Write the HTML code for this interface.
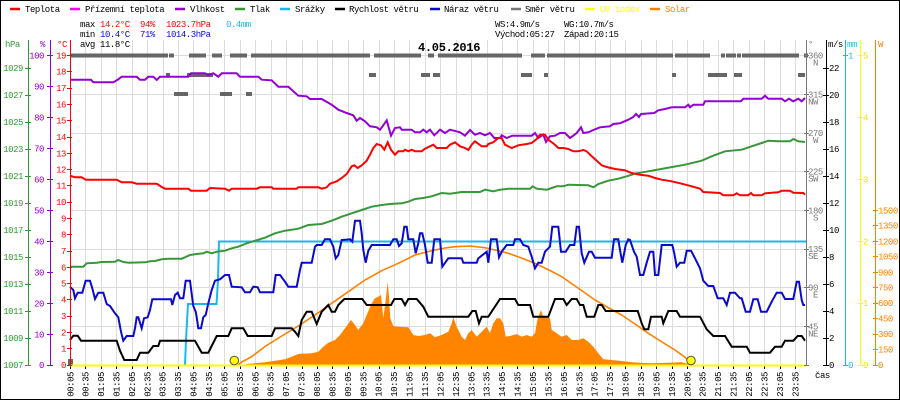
<!DOCTYPE html>
<html><head><meta charset="utf-8"><style>
html,body{margin:0;padding:0;background:#fff;}
svg{display:block;}
text{font-family:"Liberation Mono","DejaVu Sans Mono",monospace;font-size:9px;letter-spacing:-0.45px;}
</style></head><body>
<svg width="900" height="400" viewBox="0 0 900 400" xmlns="http://www.w3.org/2000/svg">
<rect x="0" y="0" width="900" height="400" fill="#fff"/>
<rect x="0.5" y="0.5" width="899" height="399" fill="none" stroke="#000" stroke-width="1"/>

<!-- grid -->
<g stroke="#dcdcdc" stroke-width="1" shape-rendering="crispEdges" fill="none">
<path d="M85.5 40V365M101.5 40V365M116.5 40V365M132.5 40V365M147.5 40V365M163.5 40V365M178.5 40V365M193.5 40V365M209.5 40V365M224.5 40V365M240.5 40V365M255.5 40V365M271.5 40V365M286.5 40V365M302.5 40V365M317.5 40V365M332.5 40V365M348.5 40V365M363.5 40V365M379.5 40V365M394.5 40V365M409.5 40V365M425.5 40V365M440.5 40V365M456.5 40V365M471.5 40V365M487.5 40V365M502.5 40V365M517.5 40V365M533.5 40V365M548.5 40V365M564.5 40V365M579.5 40V365M595.5 40V365M610.5 40V365M625.5 40V365M641.5 40V365M656.5 40V365M672.5 40V365M687.5 40V365M703.5 40V365M718.5 40V365M733.5 40V365M749.5 40V365M764.5 40V365M780.5 40V365M795.5 40V365"/>
<path d="M70 55.5H806M70 94.5H806M70 133.5H806M70 171.5H806M70 210.5H806M70 249.5H806M70 287.5H806M70 326.5H806"/>
</g>

<!-- wind direction bars -->
<g fill="#666" shape-rendering="crispEdges">
<rect x="70" y="53.5" width="98" height="4"/><rect x="169" y="53.5" width="5" height="4"/><rect x="189" y="53.5" width="17" height="4"/><rect x="212" y="53.5" width="10" height="4"/><rect x="230" y="53.5" width="17" height="4"/><rect x="251" y="53.5" width="119" height="4"/><rect x="374" y="53.5" width="47" height="4"/><rect x="428" y="53.5" width="6" height="4"/><rect x="438" y="53.5" width="84" height="4"/><rect x="531" y="53.5" width="14" height="4"/><rect x="547" y="53.5" width="126" height="4"/><rect x="675" y="53.5" width="35" height="4"/><rect x="721" y="53.5" width="4" height="4"/><rect x="726" y="53.5" width="10" height="4"/><rect x="737" y="53.5" width="4" height="4"/><rect x="742" y="53.5" width="57" height="4"/><rect x="804" y="53.5" width="4" height="4"/>
<rect x="166" y="73" width="4" height="4"/><rect x="187" y="73" width="26" height="4"/><rect x="369" y="73" width="7" height="4"/><rect x="421" y="73" width="9" height="4"/><rect x="433" y="73" width="7" height="4"/><rect x="521" y="73" width="11" height="4"/><rect x="544" y="73" width="4" height="4"/><rect x="672" y="73" width="4" height="4"/><rect x="708" y="73" width="19" height="4"/><rect x="734" y="73" width="8" height="4"/><rect x="798" y="73" width="7" height="4"/>
<rect x="174" y="92" width="14" height="4"/><rect x="220" y="92" width="12" height="4"/><rect x="246" y="92" width="6" height="4"/>
<rect x="68" y="359" width="5" height="6"/>
</g>

<!-- solar measured fill -->
<polygon fill="#ff8400" points="244,365 246.7,364 265,362.3 275,360.7 285,359.3 291.7,356.7 298.3,354 311.7,353.3 318.3,351.7 323.3,346.7 328.3,342.7 335,340 340,335 345,328.3 351,320 355,325 358.3,330 363.3,323.3 366.7,315 371.7,303.3 375,298.3 378.3,296.7 381,295 383.3,318.3 385.7,300 387.7,281.7 389,296.7 390.3,318.3 393.3,326 398.3,326.7 408.3,327.3 413.3,335 418.3,336 425,335 430,333.3 435,337.3 441.7,335 448.3,331.7 451.7,323.3 453.3,317.3 456.7,326.7 461.7,336.7 465,340 468.3,333.3 471.7,330 476.7,336.7 481.7,331.7 486.7,326.7 490,333.3 493.3,323.3 496.7,318.3 500,318.3 503.3,323.3 505.7,336.7 510,336 516.7,334 521.7,336.7 526.7,335 531.7,336.7 535,333.3 537.7,318.3 541,310 543.3,317.3 546.7,316.7 550,318.3 551.7,330 556.7,333.3 561.7,336.7 566.7,335 571.7,340 578.3,340 583.3,338.3 588.3,341.7 593.3,346.7 598.3,353.3 603.3,359.3 611.7,360 621.7,361 631.7,362.3 651.7,363.3 668.3,362.7 681.7,362.3 688.3,364 689,365"/>

<!-- solar theoretical line -->
<polyline fill="none" stroke="#ff8000" stroke-width="1.6" points="238,365 241.7,362 251.7,356.7 265,346.5 281.7,336 298.3,326 315,315 331.7,303.3 348.3,291.7 365,280 381.7,270.7 398.3,263.3 415,255 431.7,250.7 445,248 455,246.7 470,246 485,247.7 495,250 508.3,253.3 520,257.5 535,263.3 548,269.5 561.7,276.7 578,288 595,300 608,307.5 621.7,315 635,324 648.3,333.3 662,342 675,350 684,356.5 691.7,363.3"/>

<!-- rain -->
<polyline fill="none" stroke="#1ab8ec" stroke-width="2" points="185,365 186,340 188,304 216.5,304 218,280 219,241.5 806,241.5"/>

<!-- pressure -->
<polyline fill="none" stroke="#3a963a" stroke-width="2" points="70,266.7 83.3,266.7 86.7,263.3 96.7,262.7 101.7,262 115,261.7 118.3,260 123.3,262 128.3,262.7 145,262.3 150,261.3 155,261 161.7,259.3 168.3,258.7 181.7,258.7 185,257.3 190,255 196.7,254 203.3,253.3 206.7,251.7 211.7,253.3 216.7,251.7 225,250.7 231.7,248.3 238.3,246.7 246.7,243.3 255,240.7 265,237.7 275,233.3 285,230.7 298.3,228.7 308.3,225 321.7,224 331.7,220.7 341.7,216.7 351.7,213.3 361.7,210 371.7,206.7 381.7,205 390,204 401.7,203.3 408.3,201.7 415,199 423.3,198 431.7,196.3 441.7,193 450,193.7 461.7,192 480,192 485,189.7 493.3,191.3 500,189.7 508.3,188.7 530,188.7 532.7,186.3 536.7,188.7 546.7,189.7 551.7,188 556.7,186.3 563.3,186.3 568.3,184.7 588.3,185.3 593.3,187.3 598.3,184 608.3,180.7 618.3,178.7 626.7,176.3 635,173.7 648.3,171.3 666.7,168 685,164.7 701.7,160.7 711.7,156.3 725,151.3 741.7,149.7 751.7,146.3 761.7,143 768.3,140.7 778.3,141.3 790,141.3 793.3,139 798.3,141.3 805,142"/>

<!-- humidity -->
<polyline fill="none" stroke="#9400d3" stroke-width="2" points="70,79.7 91,79.7 93.3,82.3 113.3,82.3 118.3,79.3 121.7,76.7 136.7,76.7 140,79.7 145,79.7 148.3,76.7 153.3,76.7 156.7,80 160,76.7 188.3,76.7 191,73.3 205,73.3 208.3,75.3 213.3,73.3 218.3,76.7 221.7,73.3 236.7,73.3 240,76.7 258.3,76.7 261.7,79.7 271.7,80.3 278.3,86.7 288.3,86.7 298.3,95.7 306.7,96.3 310,99 321.7,99 331.7,104.7 338.3,109.7 346.7,113 353.3,115.3 356.7,120.7 360,118 365,121.3 370,126.3 376.7,127.3 380,129.7 383.3,125.3 386.7,120.3 391,135.7 395,128 400,127.3 401.7,129.7 411.7,129.7 415,132.3 420,132.3 423.3,129.7 426.7,132.3 430,129.7 434.3,135.3 440,129.7 445,133 450,129.7 460,132.3 465,135.7 470,130 475,134.7 480,133 485,135.3 490,133 494.3,138 500,138 501.7,135.3 506.7,138 512.3,135.7 531.7,135.7 535,133 538.3,138 543.3,134.7 546,142 550,136.3 555,135.7 560,133 565,133 570,138 576.7,133 581,127.3 583.3,133 588.3,132.3 593.3,130 600,127.3 610,126.3 613.3,124 620,123.3 628.3,119.7 633.3,117 636,114 639,117 641,114 654.3,113 658.3,110.3 665,109 671.7,107.3 685,107.3 688.3,104.7 690,107.3 693.3,104.7 703.3,104.7 705,101.3 741,101.3 743.3,98.7 761.7,98.7 765,95.7 768.3,98.7 781.7,98.7 785,101.3 789,98.7 793.3,101.3 798.3,98.7 801.7,101.3 805,98"/>

<!-- temperature -->
<polyline fill="none" stroke="#ff0000" stroke-width="2" points="70,175.7 75,177.3 81.7,177.3 85.7,179.7 116.7,179.7 121.7,182.3 131.7,182.3 136.7,183.7 156.7,183.7 161.7,187 165,188.7 188.3,188.7 191,190.7 206.7,190.7 210,188 225,188.7 229,190.7 231.7,188.7 256.7,188.7 260,187.3 271.7,187.3 273.3,188.7 296.7,188.7 298.3,187.3 318.3,187.3 321.7,188.7 326.7,187.3 330,183.7 336.7,181.3 341.7,178 346.7,174 351.7,166.3 354.3,165.3 357.7,168 361.7,165.3 366.7,160.7 370,154.7 373.3,148 376.7,144 381,145.3 384.3,149.7 387.7,142.3 391,149.7 395,154.7 398.3,151.3 403.3,151.3 405,149.7 408.3,151.3 411.7,149.7 415,151.3 421.7,151.3 425,148.7 430,146.3 433.3,144.7 436.7,148 446.7,148 450,144.7 455,142.3 460,146.3 465,148 468.3,150 471.7,144.7 475,141.3 481.7,146.3 486.7,146.3 488.3,144 493.3,142.3 498.3,138 501.7,138 505,144.7 511.7,148 518.3,145.3 526.7,144 531.7,143 536,139.7 540,134.7 545,134.7 548.3,139.7 555,144.7 558.3,148 563.3,148 568.3,149 573.3,151.3 578.3,151.3 583.3,150 586.7,151.3 591.7,156.3 596.7,160.7 601.7,165.3 606.7,167 615,169 625,170.3 631.7,173 640,174.7 648.3,175.7 655,178 661.7,179.7 671.7,181.3 681.7,183.7 691.7,186.3 700,188.7 703.3,192 720,193 723.3,195.3 733.3,195.3 736.7,193.3 740,195.3 748.3,195.3 751,193 753.3,195.3 761.7,195.3 765,193.3 778.3,192.3 781.7,190.7 790,190.7 793.3,192.7 803.3,193 805,194.7"/>

<!-- wind speed -->
<polyline fill="none" stroke="#000" stroke-width="2" points="70,340 73.3,335.7 77.7,335.7 81,340.7 116.7,340.7 120,350.7 124.3,360 136.7,360 140,352.7 148.3,352.7 153.3,346 158.3,346 160,340.7 195,340.7 201.7,352.7 208.3,352.7 216.7,336 228.3,336 231.7,328.3 243.3,328.3 247.7,336 271.7,336 275,328.3 291.7,328.3 295,331.7 298.3,336 301.7,320 306.7,311.7 311.7,311.7 316.7,324 321.7,311.7 328.3,305 331.7,311.7 335,311.7 338.3,305 344.3,299 362.3,299 366.7,305 391,305 394.3,299 401.7,299 405,305 408.3,299 416.7,299 423.3,306.7 428.3,316.7 468.3,316.7 472.3,311 475.7,311 479,323.3 481.7,316.7 488.3,316.7 500,299 515,299 518.3,305 530,305 533.3,316.7 548.3,316.7 555,299 563.3,299 566.7,305 571.7,299 576.7,299 580,305 583.3,305 586.7,316.7 594.3,316.7 598.3,305 601.7,305 605.7,311 637.7,311 641.7,323.3 644.3,329.3 648.3,329.3 651,316.7 661.7,316.7 663.3,323.3 668.3,311 676.7,311 680,316.7 700,316.7 706.7,329.3 713.3,336 725,336 731.7,346.7 746.7,346.7 750,352.7 770,352.7 775,346.7 781.7,346.7 785,340.7 793.3,340.7 797.7,336 801.7,336 805,340.7"/>

<!-- wind gust -->
<polyline fill="none" stroke="#0a0acc" stroke-width="2" points="70,286.7 73.3,290 75,298.3 77.7,292.7 82.3,292.7 85.7,280.7 90,280.7 92.3,288.3 95,299 98.3,292.7 103.3,292.7 106.7,304 110,306 115,313.3 118.3,317.3 121,331.7 123.3,340.7 126.7,336 133.3,336 135,328.3 136.7,317.3 138.3,317.3 141.7,328.3 144,318.3 147.7,317.3 150,310 152.3,299.3 171,299.3 172.3,305 175,295 177.7,292.7 180,298.3 183.3,298.3 185.7,280.7 190,280.7 191.7,294 193.3,306 195.7,311.7 196.7,317.3 198.3,328.3 201,328.3 203.3,317.3 205.7,315 208.3,303.3 211.7,290 215,280.7 220,279.3 225,275 229,275 231.7,286.7 241.7,287.3 245,292.3 250,292.3 253.3,286.7 257.7,287.3 260,292.3 273.3,292.3 275.7,275 280,275 285,281.7 288.3,286.7 296.7,286.7 300,270 301.7,262.7 311.7,262.7 315,246.7 316.7,245 321.7,245 325,239.3 330,239.3 333.3,246.7 335.7,258.3 338.3,255 341.7,240 350,239.3 352.3,241.7 355,220.7 360,220.7 361.7,233.3 363.3,250 365.7,262.7 368.3,250.7 371.7,245 390,245 393.3,239.3 396.7,239.3 399,246 401.7,243.3 404.3,226.7 406.7,226.7 408.3,239.3 413.3,239.3 415.7,253.3 418.3,243.3 420,233.3 422.3,233.3 425,245 427.7,262.7 431.7,262.7 434.3,239.3 440,239.3 442.3,266.7 448.3,258.3 461.7,258.3 463.3,262.7 476.7,262.7 478.3,258.3 486.7,251.7 488.3,262.7 491,239.3 496.7,239.3 499,257.3 501.7,251.7 506.7,245 513.3,245 515,239.3 520,239.3 523.3,245 528.3,246.7 531.7,256.7 535,268.3 538.3,262.7 541.7,262.7 545,251.7 550,246.7 552.3,226.7 558.3,226.7 561,251.7 565.7,251.7 570,245 574.3,245 576.7,226.7 579,226.7 581.7,253.3 584.3,262.7 589,251.7 591.7,251.7 595,257.7 611.7,257.7 614,239.3 618.3,239.3 620,250 622.3,262.7 625.7,245 628.3,239.3 630,240 634,251.7 636.7,256.7 640,275 643.3,275 646.7,262.7 650,251.7 653.3,251.7 655,275 658.3,275 661.7,245 672.3,245 674.3,253.3 676.7,266.7 680,262.7 684.3,262.7 686.7,250.7 691,250.7 695,258.3 700,268.3 703.3,280.7 708.3,286 713.3,286 717.7,298.3 723.3,298.3 726.7,305 730,292.7 735,292.7 740,298.3 741.7,298.3 745.7,311.7 750,311.7 753.3,299.3 757.7,299.3 761,311.7 766.7,311.7 771.7,301.7 776.7,292.7 781.7,292.7 785,299 793.3,299 796.7,281.7 799,281.7 801.7,300 803.3,305 805,305"/>

<!-- UV baseline -->
<line x1="70" y1="365.5" x2="806" y2="365.5" stroke="#ffff00" stroke-width="2"/>
<!-- sunrise/sunset -->
<circle cx="234.3" cy="360.5" r="4.3" fill="#ffff00" stroke="#555" stroke-width="1"/>
<circle cx="691" cy="360.5" r="4.3" fill="#ffff00" stroke="#555" stroke-width="1"/>

<!-- x ticks -->
<path stroke="#000" stroke-width="1" shape-rendering="crispEdges" d="M70.5 366.5V369M85.5 366.5V369M101.5 366.5V369M116.5 366.5V369M132.5 366.5V369M147.5 366.5V369M163.5 366.5V369M178.5 366.5V369M193.5 366.5V369M209.5 366.5V369M224.5 366.5V369M240.5 366.5V369M255.5 366.5V369M271.5 366.5V369M286.5 366.5V369M302.5 366.5V369M317.5 366.5V369M332.5 366.5V369M348.5 366.5V369M363.5 366.5V369M379.5 366.5V369M394.5 366.5V369M409.5 366.5V369M425.5 366.5V369M440.5 366.5V369M456.5 366.5V369M471.5 366.5V369M487.5 366.5V369M502.5 366.5V369M517.5 366.5V369M533.5 366.5V369M548.5 366.5V369M564.5 366.5V369M579.5 366.5V369M595.5 366.5V369M610.5 366.5V369M625.5 366.5V369M641.5 366.5V369M656.5 366.5V369M672.5 366.5V369M687.5 366.5V369M703.5 366.5V369M718.5 366.5V369M733.5 366.5V369M749.5 366.5V369M764.5 366.5V369M780.5 366.5V369M795.5 366.5V369"/>

<!-- axes -->
<g stroke-width="1" shape-rendering="crispEdges" fill="none">
<path stroke="#339933" d="M28.5 40V366M25 68.5H31M25 95.5H31M25 122.5H31M25 149.5H31M25 176.5H31M25 203.5H31M25 230.5H31M25 257.5H31M25 284.5H31M25 311.5H31M25 338.5H31M25 365.5H31"/>
<path stroke="#9400d3" d="M50.5 40V366M47 55.5H53M47 86.5H53M47 117.5H53M47 148.5H53M47 179.5H53M47 210.5H53M47 241.5H53M47 272.5H53M47 303.5H53M47 334.5H53M47 365.5H53"/>
<path stroke="#ff0000" d="M70.5 40V366M67 55.5H72M67 71.5H72M67 88.5H72M67 104.5H72M67 120.5H72M67 137.5H72M67 153.5H72M67 169.5H72M67 185.5H72M67 202.5H72M67 218.5H72M67 234.5H72M67 251.5H72M67 267.5H72M67 283.5H72M67 299.5H72M67 316.5H72M67 332.5H72M67 348.5H72M67 365.5H72"/>
<path stroke="#777" d="M806.5 40V366M804 55.5H809M804 94.5H809M804 133.5H809M804 171.5H809M804 210.5H809M804 249.5H809M804 287.5H809M804 326.5H809M804 365.5H809"/>
<path stroke="#000" d="M826.5 40V366M823 68.5H829M823 95.5H829M823 122.5H829M823 149.5H829M823 176.5H829M823 203.5H829M823 230.5H829M823 257.5H829M823 284.5H829M823 311.5H829M823 338.5H829M823 365.5H829"/>
<path stroke="#1ab8ec" d="M845.5 40V366M843 55.5H848M843 365.5H848"/>
<path stroke="#ffff00" d="M860.5 40V366M858 55.5H863M858 117.5H863M858 179.5H863M858 241.5H863M858 303.5H863M858 365.5H863"/>
<path stroke="#ff8000" d="M875.5 40V366M873 210.5H878M873 225.5H878M873 241.5H878M873 256.5H878M873 272.5H878M873 287.5H878M873 303.5H878M873 318.5H878M873 334.5H878M873 349.5H878M873 365.5H878"/>
</g>

<!-- left axis labels -->
<g fill="#339933" text-anchor="end">
<text x="23" y="71">1029</text><text x="23" y="98">1027</text><text x="23" y="125">1025</text><text x="23" y="152">1023</text><text x="23" y="179">1021</text><text x="23" y="206">1019</text><text x="23" y="233">1017</text><text x="23" y="260">1015</text><text x="23" y="287">1013</text><text x="23" y="314">1011</text><text x="23" y="341">1009</text><text x="23" y="368">1007</text>
</g>
<g fill="#9400d3" text-anchor="end">
<text x="44" y="58.5">100</text><text x="44" y="89.5">90</text><text x="44" y="120.5">80</text><text x="44" y="151.5">70</text><text x="44" y="182.5">60</text><text x="44" y="213.5">50</text><text x="44" y="244.5">40</text><text x="44" y="275.5">30</text><text x="44" y="306.5">20</text><text x="44" y="337.5">10</text><text x="44" y="368">0</text>
</g>
<g fill="#ff0000" text-anchor="end">
<text x="66" y="58.5">19</text><text x="66" y="74.5">18</text><text x="66" y="91">17</text><text x="66" y="107.5">16</text><text x="66" y="123.5">15</text><text x="66" y="140">14</text><text x="66" y="156.5">13</text><text x="66" y="172.5">12</text><text x="66" y="188.5">11</text><text x="66" y="205">10</text><text x="66" y="221.5">9</text><text x="66" y="237.5">8</text><text x="66" y="254">7</text><text x="66" y="270.5">6</text><text x="66" y="286.5">5</text><text x="66" y="302.5">4</text><text x="66" y="319">3</text><text x="66" y="335.5">2</text><text x="66" y="351.5">1</text><text x="66" y="368">0</text>
</g>

<!-- header labels -->
<text x="5" y="47" fill="#339933">hPa</text>
<text x="40" y="47" fill="#9400d3">%</text>
<text x="57" y="47" fill="#ff0000">°C</text>
<text x="808" y="47" fill="#777">°</text>
<text x="828" y="47" fill="#000">m/s</text>
<text x="847" y="47" fill="#1ab8ec">mm</text>
<text x="878" y="47" fill="#ff8000">W</text>

<!-- direction labels -->
<g fill="#777">
<text x="808" y="58.5">360</text><text x="818" y="65.5" text-anchor="end">N</text>
<text x="808" y="97.5">315</text><text x="818" y="104.5" text-anchor="end">NW</text>
<text x="808" y="136">270</text><text x="818" y="143" text-anchor="end">W</text>
<text x="808" y="174.5">225</text><text x="818" y="181.5" text-anchor="end">SW</text>
<text x="808" y="213.5">180</text><text x="818" y="220.5" text-anchor="end">S</text>
<text x="808" y="252">135</text><text x="818" y="259" text-anchor="end">SE</text>
<text x="808" y="290.5">90</text><text x="818" y="297.5" text-anchor="end">E</text>
<text x="808" y="329.5">45</text><text x="818" y="336.5" text-anchor="end">NE</text>
</g>
<g fill="#000">
<text x="829" y="71">22</text><text x="829" y="98">20</text><text x="829" y="125">18</text><text x="829" y="152">16</text><text x="829" y="179">14</text><text x="829" y="206">12</text><text x="829" y="233">10</text><text x="829" y="260">8</text><text x="829" y="287">6</text><text x="829" y="314">4</text><text x="829" y="341">2</text><text x="829" y="368">0</text>
</g>
<g fill="#1ab8ec"><text x="848" y="58.5">1</text><text x="848" y="368">0</text></g>
<g fill="#e6e600"><text x="863" y="58.5">5</text><text x="863" y="120.5">4</text><text x="863" y="182.5">3</text><text x="863" y="244.5">2</text><text x="863" y="306">1</text><text x="863" y="368">0</text></g>
<g fill="#ff8000">
<text x="878" y="213.5">1500</text><text x="878" y="228.5">1350</text><text x="878" y="244.5">1200</text><text x="878" y="259.5">1050</text><text x="878" y="275.5">900</text><text x="878" y="290.5">750</text><text x="878" y="306">600</text><text x="878" y="321.5">450</text><text x="878" y="337">300</text><text x="878" y="352.5">150</text><text x="878" y="368">0</text>
</g>
<text x="815" y="378" fill="#000">čas</text>

<!-- legend -->
<g stroke-width="2.5">
<line x1="10" y1="9" x2="20" y2="9" stroke="#ff0000"/>
<line x1="70" y1="9" x2="80" y2="9" stroke="#ff00ff"/>
<line x1="175" y1="9" x2="185" y2="9" stroke="#9400d3"/>
<line x1="235" y1="9" x2="245" y2="9" stroke="#339933"/>
<line x1="280" y1="9" x2="290" y2="9" stroke="#1ab8ec"/>
<line x1="335" y1="9" x2="345" y2="9" stroke="#000"/>
<line x1="430" y1="9" x2="440" y2="9" stroke="#0a0acc"/>
<line x1="511" y1="9" x2="521" y2="9" stroke="#777"/>
<line x1="585" y1="9" x2="595" y2="9" stroke="#ffff00"/>
<line x1="650" y1="9" x2="660" y2="9" stroke="#ff8000"/>
</g>
<g fill="#000">
<text x="25" y="12">Teplota</text>
<text x="85" y="12">Přízemní teplota</text>
<text x="190" y="12">Vlhkost</text>
<text x="250" y="12">Tlak</text>
<text x="295" y="12">Srážky</text>
<text x="349" y="12">Rychlost větru</text>
<text x="444" y="12">Náraz větru</text>
<text x="525" y="12">Směr větru</text>
</g>
<text x="600" y="12" fill="#ffff00">UV index</text>
<text x="665" y="12" fill="#ff8000">Solar</text>

<!-- stats -->
<text x="80" y="27" fill="#000">max</text>
<text x="100" y="27" fill="#ff0000">14.2°C</text>
<text x="140" y="27" fill="#ff0000">94%</text>
<text x="166" y="27" fill="#ff0000">1023.7hPa</text>
<text x="226" y="27" fill="#1ab8ec">0.4mm</text>
<text x="80" y="37" fill="#000">min</text>
<text x="100" y="37" fill="#0a0acc">10.4°C</text>
<text x="140" y="37" fill="#0a0acc">71%</text>
<text x="166" y="37" fill="#0a0acc">1014.3hPa</text>
<text x="80" y="47" fill="#000">avg</text>
<text x="100" y="47" fill="#000">11.8°C</text>
<text x="495" y="27" fill="#000">WS:4.9m/s</text>
<text x="564" y="27" fill="#000">WG:10.7m/s</text>
<text x="495" y="37" fill="#000">Východ:05:27</text>
<text x="564" y="37" fill="#000">Západ:20:15</text>

<!-- title -->
<text x="418" y="51" fill="#000" style="font-size:12px;font-weight:bold;letter-spacing:-0.3px">4.05.2016</text>

<!-- time labels -->
<g fill="#000" text-anchor="end" style="font-size:8.5px;letter-spacing:-0.5px">
<text transform="translate(73.3,372) rotate(-90)">00:05</text>
<text transform="translate(88.5,372) rotate(-90)">00:35</text>
<text transform="translate(104,372) rotate(-90)">01:05</text>
<text transform="translate(119.4,372) rotate(-90)">01:35</text>
<text transform="translate(134.8,372) rotate(-90)">02:05</text>
<text transform="translate(150.3,372) rotate(-90)">02:35</text>
<text transform="translate(165.7,372) rotate(-90)">03:05</text>
<text transform="translate(181.1,372) rotate(-90)">03:35</text>
<text transform="translate(196.5,372) rotate(-90)">04:05</text>
<text transform="translate(212,372) rotate(-90)">04:35</text>
<text transform="translate(227.4,372) rotate(-90)">05:05</text>
<text transform="translate(242.8,372) rotate(-90)">05:35</text>
<text transform="translate(258.3,372) rotate(-90)">06:05</text>
<text transform="translate(273.7,372) rotate(-90)">06:35</text>
<text transform="translate(289.1,372) rotate(-90)">07:05</text>
<text transform="translate(304.6,372) rotate(-90)">07:35</text>
<text transform="translate(320,372) rotate(-90)">08:05</text>
<text transform="translate(335.4,372) rotate(-90)">08:35</text>
<text transform="translate(350.8,372) rotate(-90)">09:05</text>
<text transform="translate(366.3,372) rotate(-90)">09:35</text>
<text transform="translate(381.7,372) rotate(-90)">10:05</text>
<text transform="translate(397.1,372) rotate(-90)">10:35</text>
<text transform="translate(412.6,372) rotate(-90)">11:05</text>
<text transform="translate(428,372) rotate(-90)">11:35</text>
<text transform="translate(443.4,372) rotate(-90)">12:05</text>
<text transform="translate(458.9,372) rotate(-90)">12:35</text>
<text transform="translate(474.3,372) rotate(-90)">13:05</text>
<text transform="translate(489.7,372) rotate(-90)">13:35</text>
<text transform="translate(505.1,372) rotate(-90)">14:05</text>
<text transform="translate(520.6,372) rotate(-90)">14:35</text>
<text transform="translate(536,372) rotate(-90)">15:05</text>
<text transform="translate(551.4,372) rotate(-90)">15:35</text>
<text transform="translate(566.9,372) rotate(-90)">16:05</text>
<text transform="translate(582.3,372) rotate(-90)">16:35</text>
<text transform="translate(597.7,372) rotate(-90)">17:05</text>
<text transform="translate(613.2,372) rotate(-90)">17:35</text>
<text transform="translate(628.6,372) rotate(-90)">18:05</text>
<text transform="translate(644,372) rotate(-90)">18:35</text>
<text transform="translate(659.4,372) rotate(-90)">19:05</text>
<text transform="translate(674.9,372) rotate(-90)">19:35</text>
<text transform="translate(690.3,372) rotate(-90)">20:05</text>
<text transform="translate(705.7,372) rotate(-90)">20:35</text>
<text transform="translate(721.2,372) rotate(-90)">21:05</text>
<text transform="translate(736.6,372) rotate(-90)">21:35</text>
<text transform="translate(752,372) rotate(-90)">22:05</text>
<text transform="translate(767.5,372) rotate(-90)">22:35</text>
<text transform="translate(782.9,372) rotate(-90)">23:05</text>
<text transform="translate(798.3,372) rotate(-90)">23:35</text>
</g>
</svg>
</body></html>
